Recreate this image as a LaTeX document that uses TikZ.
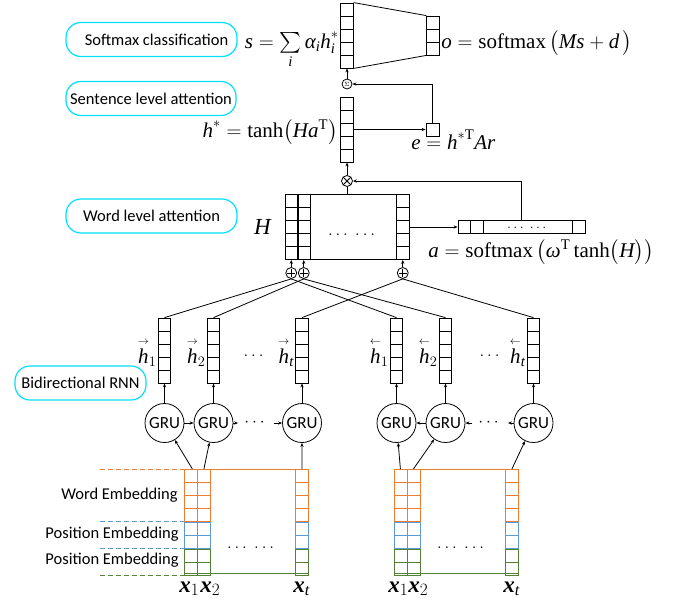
\documentclass[tikz,border=0pt]{standalone}
\usepackage{amsmath}
\usepackage{fontspec}
\setmainfont{Liberation Serif}
\newfontfamily\calfont{Carlito}
\usetikzlibrary{arrows.meta}
\definecolor{pillc}{RGB}{0,225,250}
\definecolor{eor}{RGB}{237,125,49}
\definecolor{ebl}{RGB}{91,155,213}
\definecolor{egr}{RGB}{84,130,53}
\newcommand{\iv}[1]{\textit{#1}}
\newcommand{\bx}{\textbf{\textit{x}}}
\newcommand{\fvh}[1]{\overset{\scriptscriptstyle\rightarrow}{\iv{h}}_{#1}}
\newcommand{\bvh}[1]{\overset{\scriptscriptstyle\leftarrow}{\iv{h}}_{#1}}
\tikzset{
  pill/.style={draw=pillc, line width=1.2pt, rounded corners=15pt, minimum height=34pt, inner sep=0,
    font=\calfont\fontsize{16.5}{19}\selectfont},
  vcells/.style n args={2}{draw=#2, inner sep=0, minimum width=12.5pt, minimum height=#1*13pt,
    path picture={\foreach \k in {1,...,#1}{\draw[#2] ([yshift=-\k*13pt]path picture bounding box.north west) -- ([yshift=-\k*13pt]path picture bounding box.north east);}}},
  gru/.style={draw, circle, minimum size=39pt, inner sep=0, font=\calfont\fontsize{17}{19}\selectfont},
  plusc/.style={draw, circle, minimum size=11pt, inner sep=0,
    path picture={\draw ([xshift=-4pt]path picture bounding box.center) -- ([xshift=4pt]path picture bounding box.center);
                  \draw ([yshift=-4pt]path picture bounding box.center) -- ([yshift=4pt]path picture bounding box.center);}},
  otc/.style={draw, circle, minimum size=11pt, inner sep=0,
    path picture={\draw (path picture bounding box.north west) -- (path picture bounding box.south east);
                  \draw (path picture bounding box.north east) -- (path picture bounding box.south west);}},
  sumc/.style={draw, circle, minimum size=10pt, inner sep=0, font=\fontsize{6}{6}\selectfont},
  mathf/.style={inner sep=0, font=\fontsize{21}{25}\selectfont},
  dotf/.style={inner sep=6pt, font=\fontsize{18}{20}\selectfont},
  lab/.style={inner sep=0, font=\calfont\fontsize{16.5}{19}\selectfont},
  xl/.style={inner sep=0, font=\fontsize{23}{26}\selectfont},
}
\begin{document}
\begin{tikzpicture}[x=1pt,y=-1pt,line width=0.8pt,>={Stealth[length=4pt,width=3.2pt]}]
\useasboundingbox (0,0) rectangle (679,605);
% ---------- pills
\node[pill, minimum width=171pt] (psm) at (151.5,39.5) {\hspace*{10pt}Softmax classification};
\node[pill, minimum width=170pt] (psl) at (151,98.5) {Sentence level attention};
\node[pill, minimum width=171pt] (pwl) at (151.5,216) {Word level attention};
\node[pill, minimum width=131pt] (prnn) at (80.5,383) {Bidirectional RNN};
% ---------- softmax
\node[vcells={5}{black}] (sv) at (347,35.5) {};
\node[vcells={3}{black}] (ov) at (433,35.5) {};
\draw (sv.north east) -- (ov.north west);
\draw (sv.south east) -- (ov.south west);
\node[mathf, anchor=base east] (sf) at (339,48) {$\iv{s}=\sum\limits_{\iv{i}}\iv{α}_{\iv{i}}\iv{h}_{\iv{i}}^{*}$};
\node[mathf, anchor=base west] (of) at (441,48) {$\iv{o}=\mathrm{softmax}\,\bigl(\iv{M}\iv{s}+\iv{d}\,\bigr)$};
% ---------- sentence level
\node[sumc] (sc) at (347,84) {$\Sigma$};
\draw[->] (sc) -- (sv);
\node[vcells={5}{black}] (hv) at (347,129.5) {};
\node[vcells={1}{black}, minimum width=13pt] (eb) at (432.5,129.5) {};
\draw[->] (hv.east) -- (eb.west);
\draw[->] (eb.north) |- (sc.east);
\node[mathf, anchor=base east] (hf) at (338,137) {$\iv{h}^{*}=\tanh\bigl(\iv{H}\iv{a}^{\mathrm T}\bigr)$};
\node[mathf, anchor=base west] (ef) at (411,149) {$\iv{e}=\iv{h}^{*\mathrm T}\iv{A}\iv{r}$};
\node[otc] (oc) at (347,181) {};
\draw[->] (oc) -- (hv);
% ---------- word level
\node[draw, minimum width=124pt, minimum height=65pt, inner sep=0] (Hm) at (347,227) {};
\node[vcells={5}{black}, anchor=north west] (H1) at (Hm.north west) {};
\node[vcells={5}{black}, anchor=north west] (H2) at (H1.north east) {};
\node[vcells={5}{black}, anchor=north east] (H3) at (Hm.north east) {};
\draw (oc) -- (Hm);
\node[mathf, font=\fontsize{23}{26}\selectfont] (Hl) at (263,227) {\iv{H}};
\node[dotf] (Hd) at (353,235) {$\dots\ \dots$};
\node[draw, minimum width=127pt, minimum height=13pt, inner sep=0] (av) at (521.5,227) {};
\draw ([xshift=13pt]av.north west) -- ([xshift=13pt]av.south west);
\draw ([xshift=26pt]av.north west) -- ([xshift=26pt]av.south west);
\draw ([xshift=-13pt]av.north east) -- ([xshift=-13pt]av.south east);
\node[inner sep=0.5pt, font=\fontsize{15}{18}\selectfont] (ad) at (528,227.5) {$\dots\ \dots$};
\draw[->] (Hm.east) -- (av.west);
\draw[->] (av.north) |- (oc.east);
\node[mathf, anchor=base west] (af) at (428,257) {$\iv{a}=\mathrm{softmax}\,\bigl(\iv{ω}^{\mathrm T}\tanh\bigl(\iv{H}\bigr)\bigr)$};
\node[plusc] (p1) at (291.25,273) {};
\node[plusc] (p2) at (303.75,273) {};
\node[plusc] (p3) at (402.75,273) {};
\draw[->] (p1) -- (p1 |- Hm.south);
\draw[->] (p2) -- (p2 |- Hm.south);
\draw[->] (p3) -- (p3 |- Hm.south);
% ---------- RNN hidden vectors
\node[vcells={5}{black}] (f1) at (164.5,350.5) {};
\node[vcells={5}{black}] (f2) at (213.5,350.5) {};
\node[vcells={5}{black}] (f3) at (302,350.5) {};
\node[vcells={5}{black}] (b1) at (396.5,350.5) {};
\node[vcells={5}{black}] (b2) at (445.5,350.5) {};
\node[vcells={5}{black}] (b3) at (533.5,350.5) {};
\draw (f1.north) -- (p1.south);
\draw (f2.north) -- (p2.south);
\draw (f3.north) -- (p3.south);
\draw (b1.north) -- (p1.south);
\draw (b2.north) -- (p2.south);
\draw (b3.north) -- (p3.south);
\node[mathf, anchor=east, inner sep=1pt] (lf1) at ([yshift=-2pt]f1.west) {$\fvh{1}$};
\node[mathf, anchor=east, inner sep=1pt] (lf2) at ([yshift=-2pt]f2.west) {$\fvh{2}$};
\node[mathf, anchor=east, inner sep=1pt] (lf3) at ([yshift=-2pt]f3.west) {$\fvh{\iv{t}}$};
\node[mathf, anchor=east, inner sep=1pt] (lb1) at ([yshift=-2pt]b1.west) {$\bvh{1}$};
\node[mathf, anchor=east, inner sep=1pt] (lb2) at ([yshift=-2pt]b2.west) {$\bvh{2}$};
\node[mathf, anchor=east, inner sep=1pt] (lb3) at ([yshift=-2pt]b3.west) {$\bvh{\iv{t}}$};
\node[dotf] (hdl) at (255,356) {$\dots$};
\node[dotf] (hdr) at (491,356) {$\dots$};
% ---------- GRUs
\node[gru] (g1) at (164.5,423) {GRU};
\node[gru] (g2) at (213.5,423) {GRU};
\node[gru] (g3) at (302,423) {GRU};
\node[gru] (g4) at (396.5,423) {GRU};
\node[gru] (g5) at (445.5,423) {GRU};
\node[gru] (g6) at (533.5,423) {GRU};
\foreach \a/\b in {g1/f1,g2/f2,g3/f3,g4/b1,g5/b2,g6/b3} \draw[->] (\a) -- (\b);
\node[dotf] (gdl) at (256,423) {$\cdots$};
\node[dotf] (gdr) at (490,423) {$\cdots$};
\draw[->] (g1) -- (g2);
\draw[->] (g2) -- (gdl);
\draw[->] (gdl) -- (g3);
\draw[->] (g5) -- (g4);
\draw[->] (gdr) -- (g5);
\draw[->] (g6) -- (gdr);
% ---------- embeddings
\draw[eor] (184,469) -- (308,469);
\draw[egr] (184,573) -- (308,573);
\draw[eor] (393.5,469) -- (518,469);
\draw[egr] (393.5,573) -- (518,573);
\foreach \n/\x in {L1/184,L2/197,L3/295,R1/393.5,R2/406.5,R3/505}{
  \node[vcells={4}{eor}, minimum width=13pt, anchor=north west] (\n o) at (\x,469) {};
  \node[vcells={2}{ebl}, minimum width=13pt, anchor=north] (\n b) at (\n o.south) {};
  \node[vcells={2}{egr}, minimum width=13pt, anchor=north] (\n g) at (\n b.south) {};
}
\coordinate (dz1) at (100,0 |- L1o.north west);
\coordinate (dz2) at (100,0 |- L1b.north west);
\coordinate (dz3) at (100,0 |- L1g.north west);
\coordinate (dz4) at (100,0 |- L1g.south west);
\draw[eor, dashed, dash pattern=on 5pt off 3pt] (dz1) -- (L1o.north west);
\draw[ebl, dashed, dash pattern=on 5pt off 3pt] (dz2) -- (L1b.north west);
\draw[ebl, dashed, dash pattern=on 5pt off 3pt] (dz3) -- (L1g.north west);
\draw[egr, dashed, dash pattern=on 5pt off 3pt] (dz4) -- (L1g.south west);
\node[lab, anchor=east] (lwe) at (178,495) {Word Embedding};
\node[lab, anchor=east] (lpe1) at (179,534.5) {Position Embedding};
\node[lab, anchor=east] (lpe2) at (179,560.5) {Position Embedding};
\node[dotf] (Ld) at (252,548) {$\dots\ \dots$};
\node[dotf] (Rd) at (462,548) {$\dots\ \dots$};
\draw[->] ([xshift=1.5pt]L1o.north) -- (g1);
\draw[->] (L2o.north) -- (g2);
\draw[->] (L3o.north) -- (g3);
\draw[->] (R1o.north) -- (g4);
\draw[->] (R2o.north) -- (g5);
\draw[->] (R3o.north) -- (g6);
\node[xl, anchor=base west] (xL1) at (179,592) {$\bx_1$};
\node[xl, anchor=base west] (xL2) at (200,592) {$\bx_2$};
\node[xl, anchor=base west] (xLt) at (293,592) {$\bx_{\iv{t}}$};
\node[xl, anchor=base west] (xR1) at (388,592) {$\bx_1$};
\node[xl, anchor=base west] (xR2) at (408,592) {$\bx_2$};
\node[xl, anchor=base west] (xRt) at (503,592) {$\bx_{\iv{t}}$};
\end{tikzpicture}
\end{document}
